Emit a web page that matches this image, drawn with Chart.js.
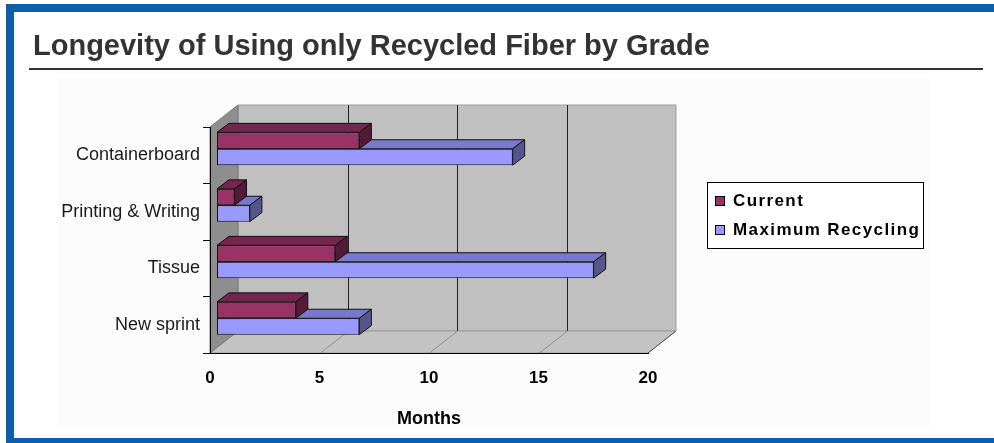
<!DOCTYPE html>
<html>
<head>
<meta charset="utf-8">
<title>Longevity of Using only Recycled Fiber by Grade</title>
<script src="https://cdn.jsdelivr.net/npm/chart.js@4.4.0/dist/chart.umd.min.js"></script>
<style>
  html, body { margin: 0; padding: 0; background: #fff; overflow: hidden; }
  canvas { display: block; }
</style>
</head>
<body>
<canvas id="chart" width="994" height="443"></canvas>
<script>
// ---- data ----
const grades = ['Containerboard', 'Printing & Writing', 'Tissue', 'New sprint'];
const currentMonths = [6.5, 0.8, 5.4, 3.6];
const maxRecyclingMonths = [13.5, 1.5, 17.2, 6.5];
const seriesNames = ['Current', 'Maximum Recycling'];
const monthTicks = [0, 5, 10, 15, 20];

// ---- styling ----
const FONT = "'Liberation Sans', Arial, Helvetica, sans-serif";
const FRONT = ['#993366', '#9999ff'];
const TOP = ['#74264d', '#7878cc'];
const SIDE = ['#561a39', '#56568f'];
const WALL = { dx: 28, dy: -22 };       // depth of the chart box
const BAR_SHIFT = { dx: 7, dy: -6.5 };  // bars sit a little inside the box
const BAR_DEPTH = { dx: 12, dy: -9 };   // thickness of each bar

Chart.defaults.font.family = FONT;

function poly(ctx, pts, fill, stroke) {
  ctx.beginPath();
  ctx.moveTo(pts[0][0], pts[0][1]);
  for (let i = 1; i < pts.length; i++) ctx.lineTo(pts[i][0], pts[i][1]);
  ctx.closePath();
  if (fill) { ctx.fillStyle = fill; ctx.fill(); }
  if (stroke) { ctx.strokeStyle = stroke; ctx.lineWidth = 1; ctx.stroke(); }
}

const box3d = {
  id: 'box3d',
  beforeDraw(chart) {
    const ctx = chart.ctx;
    const { left: L, right: R, top: T, bottom: B } = chart.chartArea;
    const xs = chart.scales.x;
    ctx.save();
    // page frame
    ctx.fillStyle = '#fcfcfc';
    ctx.fillRect(57, 78, 873, 350);
    ctx.fillStyle = '#0b5fab';
    ctx.fillRect(6, 4, 988, 8);
    ctx.fillRect(6, 4, 8, 439);
    ctx.fillRect(6, 438, 988, 5);

    const dx = WALL.dx, dy = WALL.dy;
    // back wall
    poly(ctx, [[L + dx, T + dy], [R + dx, T + dy], [R + dx, B + dy], [L + dx, B + dy]], '#c0c0c0', '#9c9c9c');
    // floor
    poly(ctx, [[L, B], [R, B], [R + dx, B + dy], [L + dx, B + dy]], '#c3c3c3', '#9c9c9c');
    // left wall
    poly(ctx, [[L, T], [L + dx, T + dy], [L + dx, B + dy], [L, B]], '#8e8e8e', '#7a7a7a');

    // grid: vertical lines on the back wall, slanted lines on the floor
    ctx.lineWidth = 1;
    monthTicks.slice(1, -1).forEach(v => {
      const x = Math.round(xs.getPixelForValue(v)) + 0.5;
      ctx.strokeStyle = '#1e1e1e';
      ctx.beginPath();
      ctx.moveTo(x + dx, T + dy);
      ctx.lineTo(x + dx, B + dy);
      ctx.stroke();
      ctx.strokeStyle = '#8e8e8e';
      ctx.beginPath();
      ctx.moveTo(x, B);
      ctx.lineTo(x + dx, B + dy);
      ctx.stroke();
    });
    // right edge of the floor
    ctx.strokeStyle = '#555';
    ctx.beginPath();
    ctx.moveTo(R, B);
    ctx.lineTo(R + dx, B + dy);
    ctx.stroke();
    ctx.restore();
  },
  beforeDatasetsDraw(chart) {
    chart.ctx.save();
    chart.ctx.translate(BAR_SHIFT.dx, BAR_SHIFT.dy);
  },
  afterDatasetDraw(chart, args) {
    const ctx = chart.ctx;
    const i = args.index;
    const ddx = BAR_DEPTH.dx, ddy = BAR_DEPTH.dy;
    args.meta.data.forEach(el => {
      const p = el.getProps(['x', 'y', 'base', 'height'], true);
      const t = p.y - p.height / 2, b = p.y + p.height / 2;
      const l = Math.min(p.base, p.x), r = Math.max(p.base, p.x);
      ctx.save();
      ctx.lineJoin = 'round';
      poly(ctx, [[l, t], [l + ddx, t + ddy], [r + ddx, t + ddy], [r, t]], TOP[i], '#111');
      poly(ctx, [[r, t], [r + ddx, t + ddy], [r + ddx, b + ddy], [r, b]], SIDE[i], '#111');
      ctx.restore();
    });
  },
  afterDatasetsDraw(chart) {
    chart.ctx.restore();
  },
  afterDraw(chart) {
    const ctx = chart.ctx;
    ctx.save();
    // rule under the heading
    ctx.fillStyle = '#333';
    ctx.fillRect(29, 68, 954, 2);

    // legend
    const lx = 707, ly = 182, lw = 216, lh = 66;
    ctx.fillStyle = '#fff';
    ctx.fillRect(lx, ly, lw, lh);
    ctx.strokeStyle = '#000';
    ctx.lineWidth = 1;
    ctx.strokeRect(lx + 0.5, ly + 0.5, lw, lh);
    ctx.font = 'bold 17px ' + FONT;
    ctx.textBaseline = 'middle';
    ctx.textAlign = 'left';
    if ('letterSpacing' in ctx) ctx.letterSpacing = '1.4px';
    chart.data.datasets.forEach((ds, k) => {
      const cy = ly + 18 + k * 29;
      ctx.fillStyle = ds.backgroundColor;
      ctx.fillRect(lx + 8, cy - 4, 10, 10);
      ctx.strokeStyle = '#000';
      ctx.strokeRect(lx + 8.5, cy - 3.5, 9, 9);
      ctx.fillStyle = '#000';
      ctx.fillText(ds.label, lx + 26, cy + 1);
    });
    ctx.restore();
  }
};

new Chart(document.getElementById('chart'), {
  type: 'bar',
  data: {
    labels: grades,
    datasets: [
      { label: seriesNames[0], data: currentMonths, backgroundColor: FRONT[0] },
      { label: seriesNames[1], data: maxRecyclingMonths, backgroundColor: FRONT[1] }
    ]
  },
  options: {
    indexAxis: 'y',
    responsive: false,
    animation: false,
    devicePixelRatio: 1,
    layout: { padding: { top: 12, left: 33, right: 11, bottom: 0 } },
    datasets: {
      bar: {
        borderColor: '#111',
        borderWidth: 1,
        borderSkipped: false,
        inflateAmount: 0,
        barPercentage: 1,
        categoryPercentage: 0.58,
        clip: false
      }
    },
    plugins: {
      legend: { display: false },
      tooltip: { enabled: false },
      title: {
        display: true,
        text: 'Longevity of Using only Recycled Fiber by Grade',
        align: 'start',
        color: '#333',
        font: { size: 29, weight: 'bold', family: FONT },
        padding: { top: 18, bottom: 62.2 }
      }
    },
    scales: {
      x: {
        type: 'linear',
        min: monthTicks[0],
        max: monthTicks[monthTicks.length - 1],
        ticks: {
          stepSize: monthTicks[1] - monthTicks[0],
          color: '#000',
          font: { size: 17, weight: 'bold', family: FONT },
          padding: 7
        },
        grid: { display: false },
        border: { display: true, color: '#000', width: 1 },
        title: {
          display: true,
          text: 'Months',
          color: '#000',
          font: { size: 18, weight: 'bold', family: FONT },
          padding: { top: 0, bottom: 13 }
        },
        afterFit(scale) { scale.height = 90; }
      },
      y: {
        type: 'category',
        ticks: {
          color: '#1a1a1a',
          font: { size: 18, family: FONT },
          padding: 3
        },
        grid: {
          display: true,
          drawOnChartArea: false,
          drawTicks: true,
          tickLength: 7,
          color: '#000',
          offset: true
        },
        border: { display: true, color: '#000', width: 1 },
        afterFit(scale) { scale.width = 177; }
      },
      // empty right-hand band that holds the room for the legend
      legendSpace: {
        type: 'category',
        position: 'right',
        grid: { display: false },
        ticks: { display: false },
        border: { display: false },
        afterFit(scale) { scale.width = 335; }
      }
    }
  },
  plugins: [box3d]
});
</script>
</body>
</html>
